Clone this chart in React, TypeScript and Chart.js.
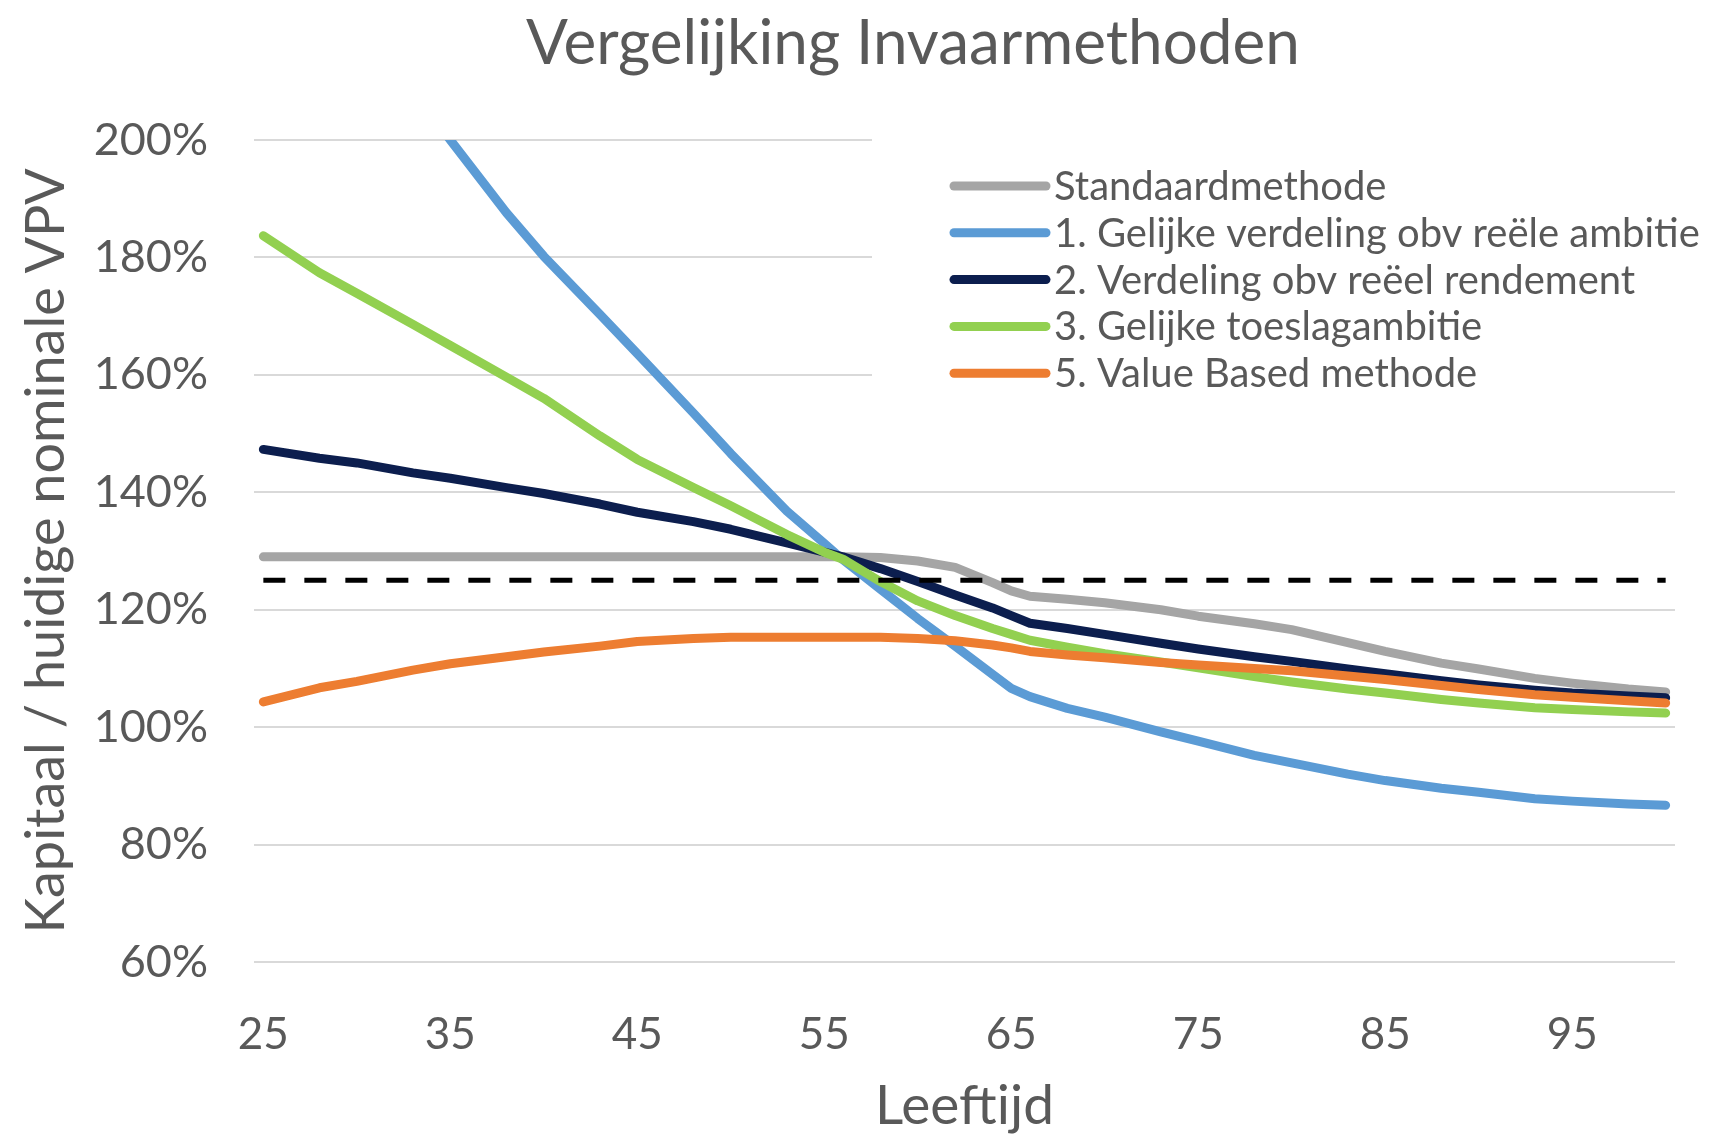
import React, { useEffect, useRef } from "react";
import { Chart, registerables } from "chart.js";

Chart.register(...registerables);

const TITLE = "Vergelijking Invaarmethoden";
const X_TITLE = "Leeftijd";
const Y_TITLE = "Kapitaal / huidige nominale VPV";

const xTickValues = [25, 35, 45, 55, 65, 75, 85, 95];
const yTickValues = [60, 80, 100, 120, 140, 160, 180, 200];

const ages = [25, 28, 30, 33, 35, 38, 40, 43, 45, 48, 50, 53, 55, 56, 58, 60, 62, 64, 65, 66, 68, 70, 73, 75, 78, 80, 83, 85, 88, 90, 93, 95, 98, 100];

const labels = [
  "Standaardmethode",
  "1. Gelijke verdeling obv reële ambitie",
  "2. Verdeling obv reëel rendement",
  "3. Gelijke toeslagambitie",
  "5. Value Based methode",
];

const standaard = [129, 129, 129, 129, 129, 129, 129, 129, 129, 129, 129, 129, 129, 129, 128.9, 128.3, 127.2, 124.6, 123.2, 122.3, 121.8, 121.2, 120, 118.9, 117.6, 116.6, 114.4, 112.9, 110.9, 109.9, 108.3, 107.5, 106.5, 106];
const gelijkeVerdeling = [null, null, null, 208.5, 200, 187.6, 180.2, 170.3, 163.6, 153.5, 146.6, 136.8, 131.3, 128.5, 123.5, 118.5, 113.8, 109, 106.6, 105.2, 103.2, 101.7, 99.2, 97.6, 95.2, 93.9, 92, 90.9, 89.6, 88.9, 87.8, 87.4, 86.9, 86.7];
const reeelRendement = [147.3, 145.8, 145, 143.3, 142.4, 140.8, 139.8, 138, 136.6, 135, 133.7, 131.4, 129.8, 129, 127, 124.8, 122.5, 120.3, 119, 117.7, 116.8, 115.8, 114.3, 113.3, 112, 111.2, 109.9, 109.1, 107.9, 107.2, 106.3, 105.8, 105.3, 105];
const toeslagambitie = [183.7, 177.4, 173.9, 168.6, 165, 159.6, 156, 149.6, 145.6, 140.8, 137.7, 132.8, 129.8, 128.6, 124.8, 121.5, 119, 116.8, 115.8, 114.8, 113.6, 112.5, 111.1, 110.1, 108.6, 107.7, 106.5, 105.8, 104.7, 104.1, 103.3, 103, 102.6, 102.4];
const valueBased = [104.3, 106.7, 107.8, 109.7, 110.8, 112, 112.8, 113.8, 114.6, 115.1, 115.3, 115.3, 115.3, 115.3, 115.3, 115.1, 114.7, 114, 113.5, 112.9, 112.3, 111.8, 111, 110.6, 110, 109.6, 108.7, 108.1, 107.1, 106.4, 105.5, 105.1, 104.5, 104.1];

const targetAges = [25, 100];
const targetValues = [125, 125];

const colors = ["#A5A5A5", "#5B9BD5", "#0C1E4E", "#92D050", "#ED7D31"];
const TEXT = "#595959";
const FONT = "Lato, 'Open Sans', sans-serif";

const toPoints = (xs: number[], ys: (number | null)[]) => xs.map((x, i) => ({ x, y: ys[i] }));

export default function App() {
  const ref = useRef<HTMLCanvasElement | null>(null);

  useEffect(() => {
    document.body.style.margin = "0";
    const canvas = ref.current;
    if (!canvas) return;

    const series = [standaard, gelijkeVerdeling, reeelRendement, toeslagambitie, valueBased];

    const overlay = {
      id: "overlay",
      beforeDatasetsDraw(chart: any) {
        const ctx = chart.ctx;
        ctx.save();
        ctx.fillStyle = "#ffffff";
        ctx.fillRect(872, 120, 1716 - 872, 285);
        ctx.restore();
      },
      afterDraw(chart: any) {
        const ctx = chart.ctx;
        ctx.save();
        ctx.fillStyle = TEXT;
        ctx.textAlign = "center";
        ctx.textBaseline = "middle";
        ctx.font = `62px ${FONT}`;
        ctx.fillText(TITLE, 913, 44);
        // legend
        ctx.textAlign = "left";
        ctx.font = `40px ${FONT}`;
        labels.forEach((lab, i) => {
          const y = 186 + i * 46.8;
          ctx.strokeStyle = colors[i];
          ctx.lineWidth = 9;
          ctx.lineCap = "round";
          ctx.beginPath();
          ctx.moveTo(954, y);
          ctx.lineTo(1046, y);
          ctx.stroke();
          ctx.fillStyle = TEXT;
          ctx.fillText(lab, 1054, y + 1);
        });
        ctx.restore();
      },
    };

    const datasets: any[] = series.map((s, i) => ({
      label: labels[i],
      data: toPoints(ages, s),
      borderColor: colors[i],
      backgroundColor: colors[i],
      borderWidth: 9,
      pointRadius: 0,
      tension: 0,
      borderCapStyle: "round",
      borderJoinStyle: "round",
      spanGaps: false,
      clip: 0,
      order: 5 - i,
    }));
    datasets.push({
      label: "125%",
      data: toPoints(targetAges, targetValues),
      borderColor: "#000000",
      borderWidth: 5,
      borderDash: [22, 19],
      borderCapStyle: "butt",
      pointRadius: 0,
      clip: 0,
      order: 0,
    });

    const chart = new Chart(canvas, {
      type: "line",
      data: { datasets },
      plugins: [overlay],
      options: {
        responsive: false,
        animation: false,
        layout: { padding: { top: 140, right: 41, bottom: 0, left: 0 } },
        plugins: {
          legend: { display: false },
          title: { display: false },
          tooltip: { enabled: false },
        },
        scales: {
          x: {
            type: "linear",
            min: 24.5,
            max: 100.5,
            afterBuildTicks: (axis: any) => {
              axis.ticks = xTickValues.map((value) => ({ value }));
            },
            afterFit: (scale: any) => {
              scale.height = 172;
            },
            grid: { display: false },
            border: { display: false },
            ticks: {
              autoSkip: false,
              maxRotation: 0,
              padding: 38,
              color: TEXT,
              font: { family: FONT, size: 44 },
            },
            title: {
              display: true,
              text: X_TITLE,
              color: TEXT,
              font: { family: FONT, size: 55, lineHeight: 1 },
              padding: { top: 0, bottom: 0 },
            },
          },
          y: {
            type: "linear",
            min: 60,
            max: 200,
            afterBuildTicks: (axis: any) => {
              axis.ticks = yTickValues.map((value) => ({ value }));
            },
            afterFit: (scale: any) => {
              scale.width = 254;
            },
            grid: { color: "#D9D9D9", lineWidth: 2, drawTicks: false },
            border: { display: false },
            ticks: {
              padding: 46,
              color: TEXT,
              font: { family: FONT, size: 45 },
              callback: (v: any) => `${v}%`,
            },
            title: {
              display: true,
              text: Y_TITLE,
              color: TEXT,
              font: { family: FONT, size: 54 },
              padding: { top: 14, bottom: 0 },
            },
          },
        },
      },
    });

    return () => chart.destroy();
  }, []);

  return (
    <div style={{ width: 1716, height: 1134, background: "#fff" }}>
      <canvas ref={ref} width={1716} height={1134} style={{ display: "block" }} />
    </div>
  );
}
